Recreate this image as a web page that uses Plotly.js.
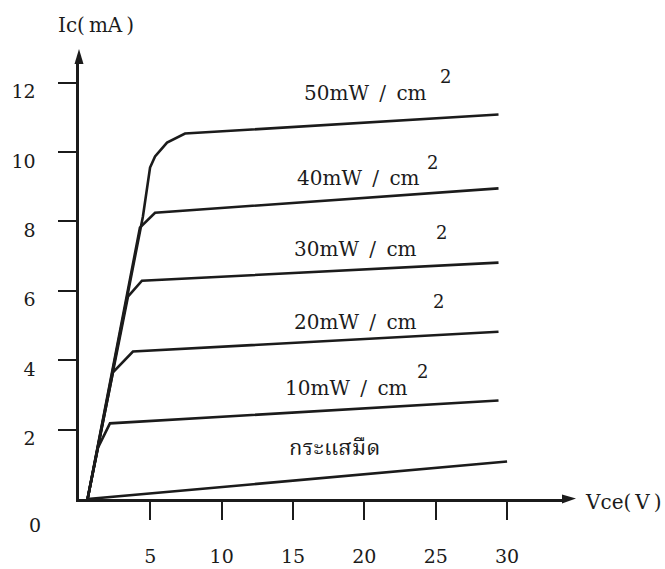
<!DOCTYPE html>
<html>
<head>
<meta charset="utf-8">
<script src="https://cdn.plot.ly/plotly-3.0.1.min.js"></script>
<style>html,body{margin:0;padding:0;background:#fff;}#chart{width:665px;height:569px;}</style>
</head>
<body>
<div id="chart"></div>
<script>
// ---- data ----
const xTickVals = [5, 10, 15, 20, 25, 30];
const yTickVals = [2, 4, 6, 8, 10, 12];

const darkX = [0.6, 30.0];
const darkY = [0, 1.08];
const mw10X = [0.6, 1.33, 2.17, 29.4];
const mw10Y = [0, 1.48, 2.18, 2.84];
const mw20X = [0.6, 2.38, 3.78, 29.4];
const mw20Y = [0, 3.65, 4.25, 4.82];
const mw30X = [0.6, 3.43, 4.41, 29.4];
const mw30Y = [0, 5.83, 6.29, 6.81];
const mw40X = [0.6, 4.27, 5.33, 29.4];
const mw40Y = [0, 7.82, 8.25, 8.95];
const mw50X = [0.6, 4.48, 4.98, 5.33, 6.17, 7.43, 29.4];
const mw50Y = [0, 8.14, 9.55, 9.87, 10.27, 10.53, 11.08];

const curveNames = ['กระแสมืด', '10mW / cm', '20mW / cm', '30mW / cm', '40mW / cm', '50mW / cm'];
const xAxisTitle = 'Vce(V)';
const yAxisTitle = 'Ic(mA)';
const originLabel = '0';

// ---- chart ----
const INK = '#1b1b1b';
const SERIF = "'DejaVu Serif', 'Liberation Serif', serif";
const THAI = "'Noto Serif Thai', Norasi, 'Noto Sans Thai', Loma, Garuda, sans-serif";
const lineStyle = {color: INK, width: 2.6};

const series = [[darkX, darkY], [mw10X, mw10Y], [mw20X, mw20Y], [mw30X, mw30Y], [mw40X, mw40Y], [mw50X, mw50Y]];
const traces = series.map((s, i) => ({
  x: s[0], y: s[1], type: 'scatter', mode: 'lines', name: curveNames[i],
  line: lineStyle, hoverinfo: 'skip', cliponaxis: false
}));

function sp(t){ return t.replace(/ /g, '\u00a0\u2009'); }
function loose(t){ return t.replace('(', '(\u2009').replace(')', '\u2009)'); }

const labelFont = {family: SERIF, size: 20, color: INK};
const supFont = {family: SERIF, size: 18, color: INK};
const labelPos = [
  {x: 14.58, y: 1.42, sx: null, sy: null},
  {x: 14.3, y: 3.21, sx: 24.1, sy: 3.67},
  {x: 14.93, y: 5.09, sx: 25.2, sy: 5.69},
  {x: 14.93, y: 7.19, sx: 25.4, sy: 7.68},
  {x: 15.14, y: 9.26, sx: 24.8, sy: 9.70},
  {x: 15.63, y: 11.71, sx: 25.65, sy: 12.17}
];
const annotations = [];
curveNames.forEach((n, i) => {
  const p = labelPos[i];
  annotations.push({
    x: p.x, y: p.y, xref: 'x', yref: 'y', xanchor: 'left', yanchor: 'middle',
    text: i === 0 ? n : sp(n), showarrow: false,
    font: i === 0 ? {family: THAI, size: 22, color: INK} : labelFont
  });
  if (p.sx !== null) {
    annotations.push({x: p.sx, y: p.sy, xref: 'x', yref: 'y', xanchor: 'center', yanchor: 'middle',
      text: '2', showarrow: false, font: supFont});
  }
});
const titleFont = {family: SERIF, size: 20, color: INK};
annotations.push({x: 0.0349, y: 1.0797, xref: 'paper', yref: 'paper', xanchor: 'center', yanchor: 'middle',
  text: loose(yAxisTitle), showarrow: false, font: titleFont});
annotations.push({x: 1.035, y: -0.0068, xref: 'paper', yref: 'paper', xanchor: 'left', yanchor: 'middle',
  text: loose(xAxisTitle), showarrow: false, font: titleFont});
annotations.push({x: -0.0903, y: -0.0592, xref: 'paper', yref: 'paper', xanchor: 'center', yanchor: 'middle',
  text: originLabel, showarrow: false, font: {family: SERIF, size: 19, color: INK}});

const shapes = [
  {type: 'path', xref: 'paper', yref: 'paper', xsizemode: 'pixel', ysizemode: 'pixel',
   xanchor: 1, yanchor: 0, path: 'M-4,4.5 L10,0.5 L-4,-4.5 Z', fillcolor: INK, line: {width: 0}},
  {type: 'path', xref: 'paper', yref: 'paper', xsizemode: 'pixel', ysizemode: 'pixel',
   xanchor: 0, yanchor: 1, path: 'M-4.5,-4 L0,11 L4.5,-4 Z', fillcolor: INK, line: {width: 0}}
];

const layout = {
  width: 665, height: 569,
  margin: {l: 79, r: 99, t: 60, b: 70},
  paper_bgcolor: '#fff', plot_bgcolor: '#fff',
  showlegend: false,
  xaxis: {
    range: [0, 34.13], showgrid: false, zeroline: false,
    showline: true, linecolor: INK, linewidth: 2.6,
    tickvals: xTickVals, ticktext: xTickVals.map(String),
    ticks: 'outside', ticklen: 18, tickwidth: 2, tickcolor: INK,
    ticklabelstandoff: 21,
    tickfont: {family: SERIF, size: 19, color: INK}
  },
  yaxis: {
    range: [0, 12.65], showgrid: false, zeroline: false,
    showline: true, linecolor: INK, linewidth: 2.6,
    tickvals: yTickVals, ticktext: yTickVals.map(String),
    ticks: 'outside', ticklen: 18, tickwidth: 2, tickcolor: INK,
    ticklabelstandoff: 19, ticklabelshift: 9,
    tickfont: {family: SERIF, size: 19, color: INK}
  },
  annotations: annotations,
  shapes: shapes
};

Plotly.newPlot('chart', traces, layout, {staticPlot: true});
</script>
</body>
</html>
